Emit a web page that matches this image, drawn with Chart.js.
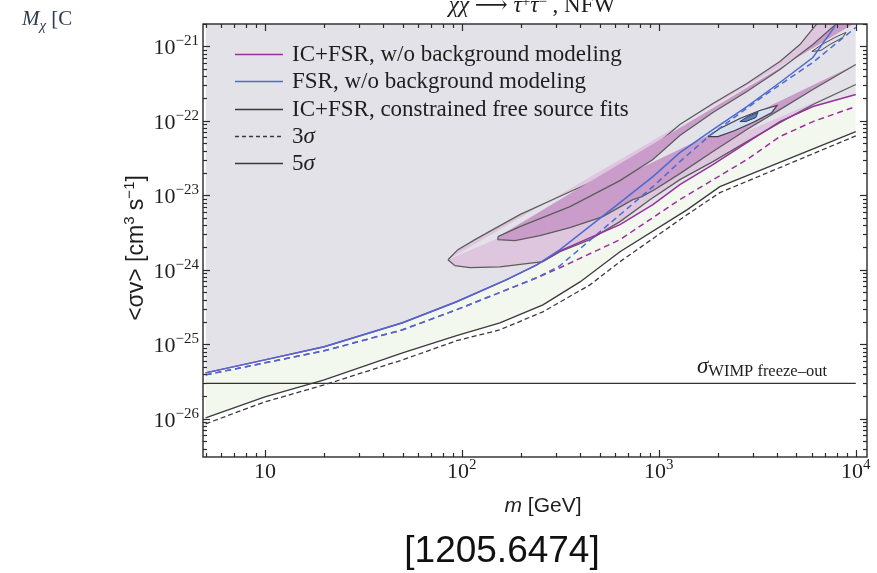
<!DOCTYPE html>
<html>
<head>
<meta charset="utf-8">
<script src="https://cdn.jsdelivr.net/npm/chart.js@4.4.1/dist/chart.umd.min.js"></script>
<style>
  html, body { margin: 0; padding: 0; background: #ffffff; overflow: hidden; }
  canvas { display: block; }
</style>
</head>
<body>
<canvas id="c" width="877" height="573"></canvas>
<script>
// Dark matter mass m [GeV] and annihilation cross section <σv> [cm^3 s^-1]

// FSR only, no background modeling (5σ solid, 3σ dashed)
const fsrMass   = [5, 10, 20, 50, 94, 169, 240, 315, 635, 933, 1279, 1882, 2800, 4118, 6056, 7832];
const fsrSigma  = [4.15e-26, 6.2e-26, 9.3e-26, 1.95e-25, 3.74e-25, 7.4e-25, 1.17e-24, 1.87e-24, 8.0e-24, 1.79e-23, 3.76e-23, 7.66e-23, 1.56e-22, 3.28e-22, 7.1e-22, 1.86e-21];
const fsr3Mass  = [5, 10, 20, 50, 94, 169, 240, 315, 635, 933, 1279, 1817, 3376, 6056, 10000];
const fsr3Sigma = [3.9e-26, 5.66e-26, 8.2e-26, 1.57e-25, 2.92e-25, 5.42e-25, 7.85e-25, 1.14e-24, 5.5e-24, 1.31e-23, 2.84e-23, 6.4e-23, 2.13e-22, 6.1e-22, 1.8e-21];

// IC+FSR, no background modeling
const icMass    = [5, 10, 20, 50, 94, 169, 240, 315, 635, 933, 1279, 1882, 2800, 4118, 6056, 10000];
const icSigma   = [4.15e-26, 6.2e-26, 9.3e-26, 1.95e-25, 3.74e-25, 7.4e-25, 1.17e-24, 1.8e-24, 4.05e-24, 7.5e-24, 1.4e-23, 2.59e-23, 5.13e-23, 9.8e-23, 1.56e-22, 2.26e-22];
const ic3Mass   = [5, 10, 20, 50, 94, 169, 240, 315, 635, 1279, 2800, 4118, 6056, 10000];
const ic3Sigma  = [3.9e-26, 5.66e-26, 8.2e-26, 1.57e-25, 2.92e-25, 5.42e-25, 7.85e-25, 1.07e-24, 2.55e-24, 8.8e-24, 3.03e-23, 6.17e-23, 9.8e-23, 1.56e-22];

// IC+FSR, constrained free source fits
const fitMass   = [5, 10, 20, 50, 94, 156, 258, 398, 635, 1389, 2042, 10000];
const fitSigma  = [1.03e-26, 1.98e-26, 3.34e-26, 7.7e-26, 1.31e-25, 1.95e-25, 3.4e-25, 6.9e-25, 1.75e-24, 6.4e-24, 1.31e-23, 7.2e-23];
const fit3Mass  = [5, 10, 20, 50, 94, 156, 258, 447, 635, 1389, 2042, 10000];
const fit3Sigma = [8.6e-27, 1.69e-26, 2.86e-26, 6.2e-26, 1.12e-25, 1.57e-25, 2.74e-25, 6.3e-25, 1.29e-24, 5.5e-24, 1.09e-23, 6.3e-23];

// thermal relic cross section
const freezeMass  = [5, 10000];
const freezeSigma = [3e-26, 3e-26];

// best-fit regions (closed outlines)
const outerMass  = [85, 95.5, 116.5, 197, 354, 635, 933, 1279, 1882, 2800, 4118, 5202, 6422, 10000,
                    10000, 6056, 4118, 2800, 1882, 1279, 901, 635, 447, 315, 258, 156, 110, 92.2, 85];
const outerSigma = [1.37e-24, 1.87e-24, 2.55e-24, 5.52e-24, 1.12e-23, 2.22e-23, 4.39e-23, 8.95e-23, 1.71e-22, 3.18e-22, 6.28e-22, 1.06e-21, 2.1e-21, 2.1e-21,
                    3.08e-22, 1.66e-22, 9.5e-23, 5.28e-23, 2.84e-23, 1.63e-23, 8.77e-24, 4.45e-24, 2.55e-24, 1.76e-24, 1.29e-24, 1.1e-24, 1.07e-24, 1.14e-24, 1.37e-24];
const innerMass  = [152.5, 197, 354, 635, 933, 1279, 1882, 2800, 4118, 6056, 8115, 10000,
                    10000, 6056, 4118, 2800, 1882, 1279, 955, 821, 738, 520, 354, 249, 186, 152.5, 152.5];
const innerSigma = [2.79e-24, 3.81e-24, 7.07e-24, 1.58e-23, 3.03e-23, 6.37e-23, 1.3e-22, 2.48e-22, 4.91e-22, 1.06e-21, 2.1e-21, 2.1e-21,
                    5.73e-22, 2.64e-22, 1.42e-22, 7.66e-23, 3.88e-23, 1.96e-23, 1.2e-23, 9.64e-24, 8.77e-24, 5.19e-24, 3.69e-24, 2.88e-24, 2.47e-24, 2.55e-24, 2.79e-24];
const blobMass   = [1775, 2042, 2580, 3260, 3977, 3750, 3074, 2433, 1995, 1775];
const blobSigma  = [6.17e-23, 7.9e-23, 1.08e-22, 1.38e-22, 1.61e-22, 1.3e-22, 9.8e-23, 7.43e-23, 6.17e-23, 6.17e-23];
const coreMass   = [2580, 2833, 3184, 3110, 2767, 2580];
const coreSigma  = [9.8e-23, 1.15e-22, 1.3e-22, 1.11e-22, 9.8e-23, 9.8e-23];
const islandMass  = [5986, 6727, 7832, 8906, 8598, 7387, 6650, 5986];
const islandSigma = [8.57e-22, 1.06e-21, 1.32e-21, 1.54e-21, 1.32e-21, 1.06e-21, 8.83e-22, 8.57e-22];

// axis ticks
const xMajor = [10, 100, 1000, 10000];
const xMajorSup = ['', '2', '3', '4'];
const yMajorExp = [-26, -25, -24, -23, -22, -21];

const SERIF = "'Liberation Serif','DejaVu Serif','Times New Roman',serif";
const SANS  = "'Liberation Sans',Arial,Helvetica,sans-serif";

const PURPLE = '#9b2f9f';
const BLUE   = '#4a6bd0';
const DARK   = '#3a3a3a';
const EDGE   = '#5c5c5c';

const pts = (m, s) => m.map((v, i) => ({ x: v, y: s[i] }));
const hideRightEdge = {
  borderColor: c => (c.p0.parsed.x >= 9999 && c.p1.parsed.x >= 9999) ? 'rgba(0,0,0,0)' : undefined
};

function runs(ctx, parts, x, y, align) {
  let w = 0;
  parts.forEach(p => { ctx.font = p[1]; w += ctx.measureText(p[0]).width; });
  let cx = align === 'center' ? x - w / 2 : (align === 'right' ? x - w : x);
  parts.forEach(p => {
    ctx.font = p[1];
    ctx.fillText(p[0], cx, y + (p[2] || 0));
    cx += ctx.measureText(p[0]).width;
  });
  return w;
}

const lineDs = (label, m, s, color, dash, order, width) => ({
  label, data: pts(m, s), showLine: true, borderColor: color, borderWidth: width || 1.3,
  borderDash: dash || [], pointRadius: 0, fill: false, order, tension: 0
});

const datasets = [
  // shaded bands behind everything
  { label: 'fit band', data: pts(fitMass, fitSigma), showLine: true, borderWidth: 0, pointRadius: 0,
    fill: 'end', backgroundColor: '#f3f8ee', order: 100 },
  { label: 'excluded', data: pts(icMass, icSigma), showLine: true, borderWidth: 0, pointRadius: 0,
    fill: 'end', backgroundColor: '#e3e2e8', order: 99 },
  // best-fit regions
  { label: 'outer region', data: pts(outerMass, outerSigma), showLine: true, borderColor: EDGE, borderWidth: 1.3,
    pointRadius: 0, fill: 'shape', backgroundColor: '#dfc6df', order: 90, segment: hideRightEdge },
  { label: 'inner region', data: pts(innerMass, innerSigma), showLine: true, borderColor: EDGE, borderWidth: 1.3,
    pointRadius: 0, fill: 'shape', backgroundColor: '#c99cc9', order: 89, segment: hideRightEdge },
  { label: 'FSR region', data: pts(blobMass, blobSigma), showLine: true, borderColor: '#3d3d4a', borderWidth: 1.2,
    pointRadius: 0, fill: 'shape', backgroundColor: '#d6e0ee', order: 88 },
  { label: 'FSR core', data: pts(coreMass, coreSigma), showLine: true, borderColor: '#2c3f6e', borderWidth: 1,
    pointRadius: 0, fill: 'shape', backgroundColor: '#5d7bb5', order: 87 },
  { label: 'FSR island', data: pts(islandMass, islandSigma), showLine: true, borderColor: '#4a4a4a', borderWidth: 1,
    pointRadius: 0, fill: 'shape', backgroundColor: '#dcdfe8', order: 86 },
  // limits
  lineDs('freeze-out', freezeMass, freezeSigma, '#333333', [], 20, 1.3),
  lineDs('fit 3σ', fit3Mass, fit3Sigma, DARK, [5, 3], 19),
  lineDs('fit 5σ', fitMass, fitSigma, DARK, [], 18),
  lineDs('IC+FSR 3σ', ic3Mass, ic3Sigma, PURPLE, [6, 4], 17, 1.5),
  lineDs('FSR 3σ', fsr3Mass, fsr3Sigma, BLUE, [6, 4], 16, 1.5),
  lineDs('IC+FSR 5σ', icMass, icSigma, PURPLE, [], 15, 1.5),
  lineDs('FSR 5σ', fsrMass, fsrSigma, BLUE, [], 14, 1.5)
];

const framePlugin = {
  id: 'frameTicks',
  afterDatasetsDraw(chart) {
    const { ctx, chartArea: a, scales: { x, y } } = chart;
    ctx.save();
    ctx.strokeStyle = '#2a2a2a';
    ctx.lineWidth = 1.2;
    const seg = (x1, y1, x2, y2) => { ctx.beginPath(); ctx.moveTo(x1, y1); ctx.lineTo(x2, y2); ctx.stroke(); };
    // inward ticks on all four sides
    for (let e = 0; e <= 4; e++) {
      for (let k = 1; k < 10; k++) {
        const v = k * Math.pow(10, e);
        if (v < x.min || v > x.max) continue;
        const px = Math.round(x.getPixelForValue(v)) + 0.5;
        const L = k === 1 ? 7 : 4;
        seg(px, a.bottom, px, a.bottom - L);
        seg(px, a.top, px, a.top + L);
      }
    }
    for (let e = -27; e <= -20; e++) {
      for (let k = 1; k < 10; k++) {
        const v = k * Math.pow(10, e);
        if (v < y.min || v > y.max) continue;
        const py = Math.round(y.getPixelForValue(v)) + 0.5;
        const L = k === 1 ? 7 : 4;
        seg(a.left, py, a.left + L, py);
        seg(a.right, py, a.right - L, py);
      }
    }
    ctx.lineWidth = 1.4;
    ctx.strokeRect(a.left, a.top, a.right - a.left, a.bottom - a.top);

    // tick labels
    ctx.fillStyle = '#1e1e1e';
    ctx.textBaseline = 'alphabetic';
    ctx.textAlign = 'left';
    xMajor.forEach((v, i) => {
      const px = x.getPixelForValue(v);
      const parts = [['10', `22px ${SERIF}`]];
      if (xMajorSup[i]) parts.push([xMajorSup[i], `15px ${SERIF}`, -9]);
      runs(ctx, parts, px, a.bottom + 21, 'center');
    });
    yMajorExp.forEach(e => {
      const py = y.getPixelForValue(Math.pow(10, e));
      runs(ctx, [['10', `22px ${SERIF}`], ['\u2212' + (-e), `15px ${SERIF}`, -9]], a.left - 4, py + 8, 'right');
    });

    // freeze-out label
    runs(ctx, [['σ', `italic 23px ${SERIF}`], ['WIMP freeze\u2013out', `16.5px ${SERIF}`, 3]], 697, 373, 'left');

    // legend
    const F = `23px ${SERIF}`;
    const rows = [
      { color: PURPLE, dash: [], text: [['IC+FSR, w/o background modeling', F]] },
      { color: BLUE, dash: [], text: [['FSR, w/o background modeling', F]] },
      { color: DARK, dash: [], text: [['IC+FSR, constrained free source fits', F]] },
      { color: DARK, dash: [4, 3], text: [['3', F], ['σ', `italic ${F}`]] },
      { color: DARK, dash: [], text: [['5', F], ['σ', `italic ${F}`]] }
    ];
    const rowY = [54, 81, 109, 136, 163];
    rows.forEach((r, i) => {
      ctx.strokeStyle = r.color;
      ctx.lineWidth = 1.4;
      ctx.setLineDash(r.dash);
      seg(235, rowY[i] + 0.5, 283, rowY[i] + 0.5);
      ctx.setLineDash([]);
      runs(ctx, r.text, 292, rowY[i] + 7, 'left');
    });
    ctx.restore();
  },
  afterDraw(chart) {
    const { ctx } = chart;
    ctx.save();
    ctx.textBaseline = 'alphabetic';
    ctx.textAlign = 'left';
    ctx.fillStyle = '#1e1e1e';
    // title
    runs(ctx, [
      ['χχ', `italic 23px ${SERIF}`], [' \u27F6 ', `23px ${SERIF}`], ['τ', `italic 23px ${SERIF}`],
      ['+', `15px ${SERIF}`, -6], ['τ', `italic 23px ${SERIF}`], ['\u2212', `15px ${SERIF}`, -6],
      [' , NFW', `23px ${SERIF}`]
    ], 532, 12, 'center');
    // axis titles
    runs(ctx, [['m', `italic 21px ${SANS}`], [' [GeV]', `21px ${SANS}`]], 543, 512, 'center');
    ctx.save();
    ctx.translate(135, 248);
    ctx.rotate(-Math.PI / 2);
    runs(ctx, [['<σv> [cm', `23px ${SANS}`], ['3', `15px ${SANS}`, -9], [' s', `23px ${SANS}`],
               ['\u22121', `15px ${SANS}`, -9], [']', `23px ${SANS}`]], 0, 8, 'center');
    ctx.restore();
    // reference tag
    ctx.fillStyle = '#111111';
    runs(ctx, [['[1205.6474]', `37px ${SANS}`]], 502, 562, 'center');
    // axis symbol at the top left
    ctx.save();
    ctx.beginPath();
    ctx.rect(0, 0, 80, 60);
    ctx.clip();
    ctx.fillStyle = '#2e3a4f';
    runs(ctx, [['M', `italic 21px ${SERIF}`], ['χ', `italic 15px ${SERIF}`, 5], [' [C', `21px ${SERIF}`]], 22, 25, 'left');
    ctx.restore();
    ctx.restore();
  }
};

new Chart(document.getElementById('c'), {
  type: 'scatter',
  data: { datasets },
  options: {
    responsive: false,
    animation: false,
    devicePixelRatio: 1,
    layout: { padding: { left: 203, right: 10, top: 24, bottom: 116 } },
    scales: {
      x: { type: 'logarithmic', min: 4.85, max: 11400, display: false },
      y: { type: 'logarithmic', min: 3.08e-27, max: 2e-21, display: false }
    },
    plugins: {
      legend: { display: false },
      tooltip: { enabled: false },
      filler: { propagate: false }
    },
    elements: { line: { tension: 0 } }
  },
  plugins: [framePlugin]
});
</script>
</body>
</html>
